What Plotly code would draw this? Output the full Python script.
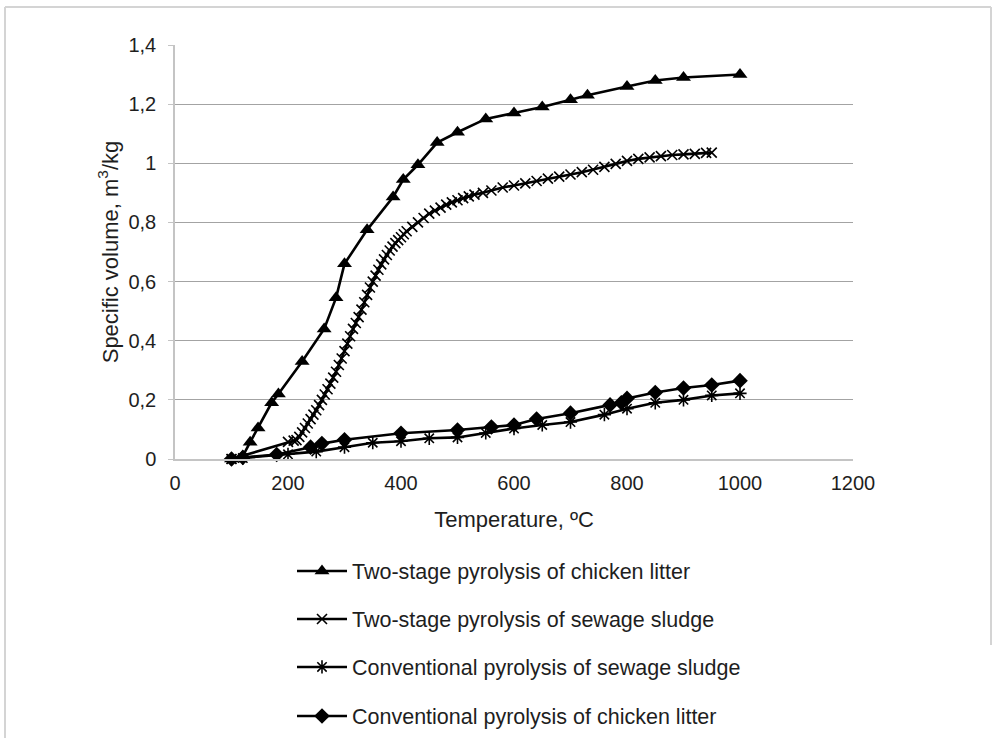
import plotly.graph_objects as go

# ---------------- data ----------------
t_cl_two = [100, 120, 133, 147, 171, 183, 225, 264, 285, 300, 340, 386, 404, 430, 464,
            500, 550, 600, 650, 700, 730, 800, 850, 900, 1000]
v_cl_two = [0.0, 0.01, 0.057, 0.105, 0.19, 0.22, 0.33, 0.44, 0.545, 0.66, 0.775, 0.886,
            0.945, 0.995, 1.07, 1.105, 1.15, 1.17, 1.19, 1.215, 1.23, 1.26, 1.28, 1.29, 1.30]

t_ss_two = [100, 200, 210, 215, 220, 225, 230, 235, 240, 245, 250, 255, 260, 265, 270, 275,
            280, 285, 290, 295, 300, 305, 310, 315, 320, 325, 330, 335, 340, 345, 350, 355,
            360, 365, 370, 375, 380, 385, 390, 395, 400, 405, 410, 420, 430, 440, 450, 460,
            470, 480, 490, 500, 510, 520, 530, 545, 560, 580, 600, 620, 640, 660, 680, 700,
            720, 740, 760, 780, 800, 820, 840, 860, 880, 900, 920, 940, 950]
v_ss_two = [0.0, 0.058, 0.062, 0.064, 0.075, 0.09, 0.105, 0.12, 0.135, 0.15, 0.165, 0.182,
            0.2, 0.218, 0.236, 0.255, 0.275, 0.295, 0.318, 0.34, 0.365, 0.39, 0.415, 0.44,
            0.46, 0.48, 0.505, 0.53, 0.555, 0.58, 0.6, 0.62, 0.64, 0.658, 0.675, 0.69, 0.705,
            0.718, 0.73, 0.74, 0.75, 0.76, 0.77, 0.785, 0.80, 0.815, 0.83, 0.84, 0.85, 0.86,
            0.868, 0.875, 0.882, 0.888, 0.894, 0.90, 0.908, 0.918, 0.925, 0.932, 0.94, 0.948,
            0.955, 0.962, 0.97, 0.978, 0.988, 0.998, 1.008, 1.015, 1.02, 1.024, 1.028, 1.03,
            1.032, 1.035, 1.036]

t_ss_conv = [100, 120, 200, 250, 300, 350, 400, 450, 500, 550, 600, 650, 700, 760, 800,
             850, 900, 950, 1000]
v_ss_conv = [0.0, 0.003, 0.016, 0.025, 0.04, 0.055, 0.06, 0.07, 0.073, 0.088, 0.103, 0.115,
             0.125, 0.15, 0.17, 0.19, 0.2, 0.215, 0.222]

t_cl_conv = [100, 120, 180, 240, 260, 300, 400, 500, 560, 600, 640, 700, 770, 790, 800,
             850, 900, 950, 1000]
v_cl_conv = [0.0, 0.005, 0.015, 0.04, 0.052, 0.065, 0.087, 0.098, 0.108, 0.115, 0.135,
             0.155, 0.183, 0.19, 0.205, 0.225, 0.24, 0.25, 0.265]

series_names = ["Two-stage pyrolysis of chicken litter",
                "Two-stage pyrolysis of sewage sludge",
                "Conventional pyrolysis of sewage sludge",
                "Conventional pyrolysis of chicken litter"]

x_tickvals = [0, 200, 400, 600, 800, 1000, 1200]
x_ticktext = ["0", "200", "400", "600", "800", "1000", "1200"]
y_tickvals = [0, 0.2, 0.4, 0.6, 0.8, 1.0, 1.2, 1.4]
y_ticktext = ["0", "0,2", "0,4", "0,6", "0,8", "1", "1,2", "1,4"]

# ---------------- layout geometry ----------------
W, H = 998, 738
ML, MR, MT, MB = 175, 145, 45, 279
PW, PH = W - ML - MR, H - MT - MB


def pxx(px):
    return (px - ML) / PW


def pxy(py):
    return (H - MB - py) / PH


FONT = "Liberation Sans, Arial, sans-serif"
TXT = "#1e1e1e"

fig = go.Figure()

specs = [
    (t_cl_two, v_cl_two, dict(symbol="triangle-up", size=13, color="black")),
    (t_ss_two, v_ss_two, dict(symbol="x-thin", size=10, color="black",
                              line=dict(color="black", width=1.6))),
    (t_ss_conv, v_ss_conv, dict(symbol="asterisk", size=11, color="black",
                                line=dict(color="black", width=1.6))),
    (t_cl_conv, v_cl_conv, dict(symbol="diamond", size=12, color="black")),
]
legend_ids = ["legend", "legend2", "legend3", "legend4"]
for (tx, vy, mk), name, lg in zip(specs, series_names, legend_ids):
    fig.add_trace(go.Scatter(x=tx, y=vy, mode="lines+markers", name=name,
                             line=dict(color="black", width=2.6), marker=mk,
                             cliponaxis=False, legend=lg, showlegend=True))

legend_rows = [571, 619, 667, 716]
legend_common = dict(x=pxx(292), xanchor="left", yanchor="middle",
                     bgcolor="rgba(0,0,0,0)", borderwidth=0,
                     font=dict(family=FONT, size=21.5, color=TXT), itemwidth=50)
legends = {}
for lg, row in zip(legend_ids, legend_rows):
    legends[lg] = dict(legend_common, y=pxy(row))

border = dict(color="#d4d4d4", width=2)
shapes = [
    dict(type="line", xref="paper", yref="paper", x0=pxx(5), x1=pxx(991), y0=pxy(7), y1=pxy(7), line=border),
    dict(type="line", xref="paper", yref="paper", x0=pxx(5), x1=pxx(5), y0=pxy(7), y1=pxy(738), line=border),
    dict(type="line", xref="paper", yref="paper", x0=pxx(991), x1=pxx(991), y0=pxy(7), y1=pxy(645), line=border),
]

fig.update_layout(
    width=W, height=H,
    showlegend=True,
    margin=dict(l=ML, r=MR, t=MT, b=MB, autoexpand=False),
    paper_bgcolor="white", plot_bgcolor="white",
    font=dict(family=FONT, size=20, color=TXT),
    shapes=shapes,
    **legends,
    xaxis=dict(range=[0, 1200], tickvals=x_tickvals, ticktext=x_ticktext,
               showgrid=False, zeroline=False, showline=True, linecolor="#c4c4c4", linewidth=1.5,
               ticks="", ticklabelstandoff=5,
               tickfont=dict(family=FONT, size=20, color=TXT),
               title=dict(text="Temperature, ºC", standoff=19,
                          font=dict(family=FONT, size=22, color=TXT))),
    yaxis=dict(range=[0, 1.4], tickvals=y_tickvals, ticktext=y_ticktext,
               showgrid=True, gridcolor="#a3a3a3", gridwidth=1.4,
               zeroline=False, showline=True, linecolor="#c4c4c4", linewidth=1.5,
               ticks="outside", ticklen=5, tickcolor="#c4c4c4", ticklabelstandoff=8,
               tickfont=dict(family=FONT, size=20, color=TXT),
               title=dict(text="Specific volume, m<sup>3</sup>/kg", standoff=4,
                          font=dict(family=FONT, size=22, color=TXT))),
)

fig.write_html("out.html")
